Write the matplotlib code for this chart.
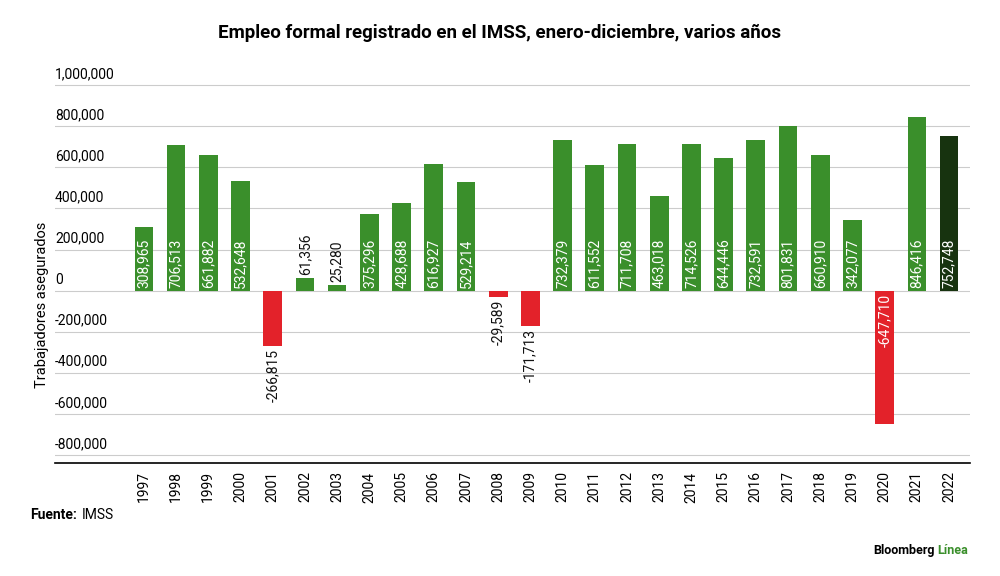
import matplotlib.pyplot as plt
import matplotlib.transforms as mtransforms

years = [str(y) for y in range(1997, 2023)]
values = [308965, 706513, 661882, 532648, -266815, 61356, 25280, 375296, 428688,
          616927, 529214, -29589, -171713, 732379, 611552, 711708, 463018, 714526,
          644446, 732591, 801831, 660910, 342077, -647710, 846416, 752748]
yticks = [1000000, 800000, 600000, 400000, 200000, 0, -200000, -400000, -600000, -800000]

green = '#3a8f2b'
red = '#e3222a'
dark = '#17330f'
colors = [red if v < 0 else green for v in values]
colors[-1] = dark

plt.rcParams['font.family'] = ['Roboto', 'DejaVu Sans']
fig = plt.figure(figsize=(10, 5.76), dpi=100)
ax = fig.add_axes([0.055, 0.196, 0.915, 0.674])
x = list(range(len(years)))
ax.bar(x, values, width=0.58, color=colors, zorder=2)
ax.set_xlim(-2.76, 25.65)
ax.set_ylim(-839000, 1050000)

trans = mtransforms.blended_transform_factory(ax.transAxes, ax.transData)
for t in yticks:
    ax.axhline(t, color='#cccccc', lw=0.8, zorder=1)
    ax.text(0, t + 20000, f'{t:,}', transform=trans, ha='left', va='bottom', fontsize=10)

for i, v in enumerate(values):
    lab = f'{v:,}'
    if v < -400000:
        ax.text(i, -15000, lab, rotation=90, ha='center', va='top', fontsize=10, color='white')
    elif v < 0:
        ax.text(i, v - 15000, lab, rotation=90, ha='center', va='top', fontsize=10, color='#111111')
    elif v < 150000:
        ax.text(i, v + 15000, lab, rotation=90, ha='center', va='bottom', fontsize=10, color='#111111')
    else:
        ax.text(i, 15000, lab, rotation=90, ha='center', va='bottom', fontsize=10, color='white')

ax.set_xticks(x)
ax.set_xticklabels(years, rotation=90, fontsize=10)
ax.tick_params(axis='x', length=0, pad=6)
ax.set_yticks([])
for s in ['top', 'right', 'left']:
    ax.spines[s].set_visible(False)
ax.spines['bottom'].set_color('black')
ax.spines['bottom'].set_linewidth(1.2)

fig.text(0.042, 0.47, 'Trabajadores asegurados', rotation=90, ha='center', va='center', fontsize=10.5)
fig.text(0.5, 0.943, 'Empleo formal registrado en el IMSS, enero-diciembre, varios años',
         ha='center', va='center', fontsize=13.5, fontweight='bold')
fig.text(0.03, 0.106, 'Fuente:', fontsize=10, fontweight='bold', va='center')
fig.text(0.082, 0.106, 'IMSS', fontsize=10, va='center')
fig.text(0.935, 0.045, 'Bloomberg', fontsize=9, fontweight='bold', ha='right', va='center')
fig.text(0.937, 0.045, 'Línea', fontsize=9, fontweight='bold', color=green, ha='left', va='center')

fig.savefig('out.png', dpi=100)
